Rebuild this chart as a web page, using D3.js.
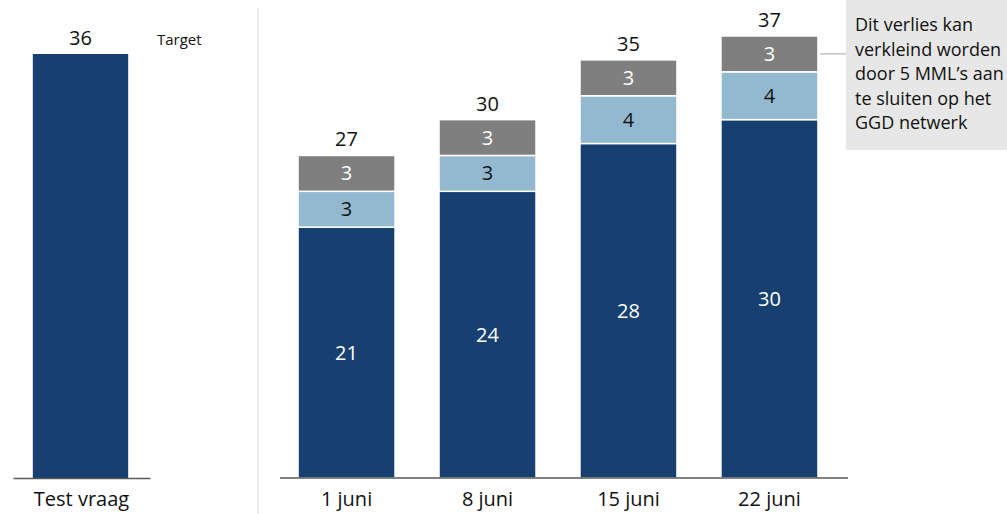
<!doctype html>
<html>
<head>
<meta charset="UTF-8">
<title>Test vraag vs capaciteit</title>
<script src="https://cdn.jsdelivr.net/npm/d3@7"></script>
<style>
  body { margin: 0; background: #fff; }
  svg text { font-family: "Open Sans", "Noto Sans", sans-serif; }
</style>
</head>
<body>
<svg id="chart" width="1007" height="514"></svg>
<script>
// left panel
var targetLabel = ["Test vraag"];
var targetValue = [36];

// right panel, stacked
var weeks = ["1 juni", "8 juni", "15 juni", "22 juni"];
var base  = [21, 24, 28, 30];
var extra = [3, 3, 4, 4];
var loss  = [3, 3, 3, 3];
var totals = [27, 30, 35, 37];

var noteLines = ["Dit verlies kan", "verkleind worden", "door 5 MML\u2019s aan", "te sluiten op het", "GGD netwerk"];

var colors = { base: "#173f6f", extra: "#93b9d0", loss: "#7f7f7f" };

var svg = d3.select("#chart");
var baseY = 478;

// ---- left panel ----
var xL = d3.scaleBand().domain(targetLabel).range([13, 150]).paddingInner(0).paddingOuter(0.15);
var yL = d3.scaleLinear().domain([0, 36]).range([baseY, 54]);

svg.selectAll("rect.target").data(targetValue).enter().append("rect")
  .attr("class", "target")
  .attr("x", function(d, i){ return xL(targetLabel[i]) + 4; })
  .attr("width", xL.bandwidth() - 10)
  .attr("y", function(d){ return yL(d); })
  .attr("height", function(d){ return baseY - yL(d); })
  .attr("fill", colors.base);

svg.selectAll("text.tval").data(targetValue).enter().append("text")
  .attr("class", "tval")
  .attr("x", function(d, i){ return xL(targetLabel[i]) + xL.bandwidth() / 2 - 1; })
  .attr("y", function(d){ return yL(d) - 9; })
  .attr("text-anchor", "middle")
  .attr("font-size", 20)
  .attr("fill", "#111")
  .text(function(d){ return d; });

svg.append("text")
  .attr("x", 157).attr("y", 45)
  .attr("font-size", 15)
  .attr("fill", "#111")
  .text("Target");

var axL = svg.append("g").attr("transform", "translate(0," + baseY + ")")
  .call(d3.axisBottom(xL).tickSize(0).tickPadding(14));
axL.select(".domain").attr("stroke", "#595959").attr("stroke-width", 1.5);
axL.selectAll("text").attr("font-size", 20).attr("fill", "#111")
  .style("font-family", "'Open Sans', sans-serif");

// separator
svg.append("line")
  .attr("x1", 258).attr("x2", 258).attr("y1", 8).attr("y2", 514)
  .attr("stroke", "#d9d9d9").attr("stroke-width", 1);

// ---- right panel ----
var xR = d3.scaleBand().domain(weeks).range([280, 836]).paddingInner(0.312).paddingOuter(0.128);
var yR = d3.scaleLinear().domain([0, 37]).range([baseY, 36]);

var rows = weeks.map(function(w, i){
  return { week: w, base: base[i], extra: extra[i], loss: loss[i] };
});
var keys = ["base", "extra", "loss"];
var stack = d3.stack().keys(keys)(rows);

var layers = svg.selectAll("g.layer").data(stack).enter().append("g")
  .attr("class", "layer")
  .attr("fill", function(d){ return colors[d.key]; });

layers.selectAll("rect").data(function(d){ return d; }).enter().append("rect")
  .attr("x", function(d){ return xR(d.data.week); })
  .attr("width", xR.bandwidth())
  .attr("y", function(d){ return yR(d[1]); })
  .attr("height", function(d){ return yR(d[0]) - yR(d[1]); })
  .attr("stroke", "#fff")
  .attr("stroke-width", 1.5);

layers.selectAll("text").data(function(d){ return d.map(function(s){ s.key = d.key; return s; }); })
  .enter().append("text")
  .attr("x", function(d){ return xR(d.data.week) + xR.bandwidth() / 2; })
  .attr("y", function(d){ return (yR(d[0]) + yR(d[1])) / 2 + 7; })
  .attr("text-anchor", "middle")
  .attr("font-size", 20)
  .attr("fill", function(d){ return d.key === "extra" ? "#111" : "#fff"; })
  .text(function(d){ return d.data[d.key]; });

svg.selectAll("text.total").data(totals).enter().append("text")
  .attr("class", "total")
  .attr("x", function(d, i){ return xR(weeks[i]) + xR.bandwidth() / 2; })
  .attr("y", function(d){ return yR(d) - 9; })
  .attr("text-anchor", "middle")
  .attr("font-size", 20)
  .attr("fill", "#111")
  .text(function(d){ return d; });

var axR = svg.append("g").attr("transform", "translate(0," + baseY + ")")
  .call(d3.axisBottom(xR).tickSize(0).tickPadding(14));
axR.select(".domain").remove();
axR.append("line")
  .attr("x1", 280).attr("x2", 848)
  .attr("stroke", "#595959").attr("stroke-width", 1.5);
axR.selectAll("text").attr("font-size", 20).attr("fill", "#111")
  .style("font-family", "'Open Sans', sans-serif");

// ---- annotation ----
var last = weeks.length - 1;
var lossMid = (yR(stack[2][last][0]) + yR(stack[2][last][1])) / 2;
svg.append("line")
  .attr("x1", xR(weeks[last]) + xR.bandwidth() + 2).attr("x2", 846)
  .attr("y1", lossMid).attr("y2", lossMid)
  .attr("stroke", "#a6a6a6").attr("stroke-width", 1);

svg.append("rect")
  .attr("x", 846).attr("y", 0).attr("width", 161).attr("height", 150)
  .attr("fill", "#e7e7e7");

svg.append("text")
  .attr("font-size", 18)
  .attr("fill", "#111")
  .selectAll("tspan").data(noteLines).enter().append("tspan")
  .attr("x", 855)
  .attr("y", function(d, i){ return 31 + i * 24.5; })
  .text(function(d){ return d; });
</script>
</body>
</html>
